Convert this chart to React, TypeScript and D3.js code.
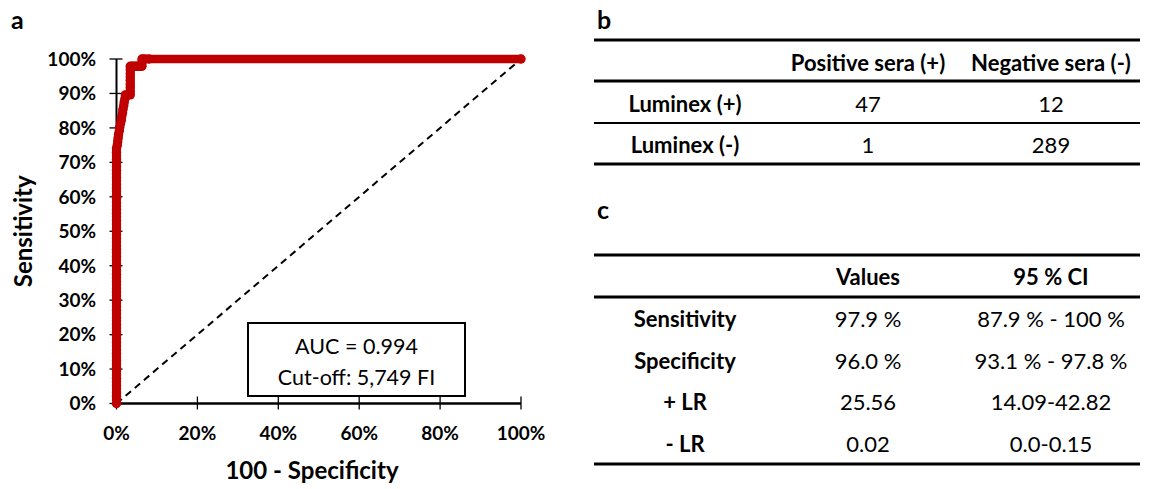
import React from 'react';
import * as d3 from 'd3';

// ROC curve points: [100 - specificity %, sensitivity %]
const rocPoints: [number, number][] = [
  [0, 0], [0, 1.0], [0, 2.1], [0, 3.1], [0, 4.2], [0, 5.2], [0, 6.3], [0, 7.3], [0, 8.3], [0, 9.4],
  [0, 10.4], [0, 11.5], [0, 12.5], [0, 13.5], [0, 14.6], [0, 15.6], [0, 16.7], [0, 17.7], [0, 18.8], [0, 19.8],
  [0, 20.8], [0, 21.9], [0, 22.9], [0, 24.0], [0, 25.0], [0, 26.0], [0, 27.1], [0, 28.1], [0, 29.2], [0, 30.2],
  [0, 31.3], [0, 32.3], [0, 33.3], [0, 34.4], [0, 35.4], [0, 36.5], [0, 37.5], [0, 38.5], [0, 39.6], [0, 40.6],
  [0, 41.7], [0, 42.7], [0, 43.8], [0, 44.8], [0, 45.8], [0, 46.9], [0, 47.9], [0, 49.0], [0, 50.0], [0, 51.0],
  [0, 52.1], [0, 53.1], [0, 54.2], [0, 55.2], [0, 56.3], [0, 57.3], [0, 58.3], [0, 59.4], [0, 60.4], [0, 61.5],
  [0, 62.5], [0, 63.5], [0, 64.6], [0, 65.6], [0, 66.7], [0, 67.7], [0, 68.8], [0, 69.8], [0, 70.8], [0, 71.9],
  [0, 72.9], [0, 74.0], [0.2, 75.0], [0.3, 76.0], [0.4, 77.1], [0.5, 78.1], [0.7, 79.2], [0.8, 80.2], [1.0, 81.3],
  [1.2, 82.3], [1.3, 83.3], [1.5, 84.4], [1.6, 85.4], [1.8, 86.5], [1.9, 87.5], [2.1, 88.5], [2.2, 89.6],
  [2.6, 89.6], [3.0, 89.6], [3.4, 89.6], [3.4, 90.6], [3.4, 91.7], [3.4, 92.7], [3.4, 93.8], [3.4, 94.8],
  [3.4, 95.8], [3.4, 96.9], [3.4, 97.9], [3.8, 97.9], [4.2, 97.9], [4.6, 97.9], [5.0, 97.9], [5.4, 97.9],
  [5.8, 97.9], [6.3, 97.9], [6.3, 99.0], [6.3, 100], [7.0, 100], [8.0, 100], [100, 100],
];

const xTicks = [0, 20, 40, 60, 80, 100];
const yTicks = [0, 10, 20, 30, 40, 50, 60, 70, 80, 90, 100];
const aucLines = ['AUC = 0.994', 'Cut-off: 5,749 FI'];

// table b
const bHeader = ['', 'Positive sera (+)', 'Negative sera (-)'];
const bRows = ['Luminex (+)', 'Luminex (-)'];
const bValues = [['47', '12'], ['1', '289']];

// table c
const cHeader = ['', 'Values', '95 % CI'];
const cRows = ['Sensitivity', 'Specificity', '+ LR', '- LR'];
const cValues = [
  ['97.9 %', '87.9 % - 100 %'],
  ['96.0 %', '93.1 % - 97.8 %'],
  ['25.56', '14.09-42.82'],
  ['0.02', '0.0-0.15'],
];

const FONT = 'Lato, "Open Sans", sans-serif';
const RED = '#c00000';
const BOLD_T = 22;  // table bold text
const REG_T = 22;   // table regular text

const App: React.FC = () => {
  const x = d3.scaleLinear().domain([0, 100]).range([116.5, 521]);
  const y = d3.scaleLinear().domain([0, 100]).range([403.5, 59]);

  const line = d3.line<[number, number]>()
    .x(d => x(d[0]))
    .y(d => y(d[1]));

  // table columns
  const col = d3.scaleOrdinal<number, number>().domain([0, 1, 2]).range([685, 868, 1051]);
  const tLeft = 594;
  const tRight = 1140;

  return (
    <svg width={1151} height={489} style={{ position: 'absolute', left: 0, top: 0, background: '#fff' }}
      fontFamily={FONT}>
      {/* panel a */}
      <text x={11} y={29} fontSize={25} fontWeight="bold">a</text>

      {/* diagonal reference */}
      <path d={line([[0, 0], [100, 100]]) || ''} stroke="#000" strokeWidth={2} strokeDasharray="7,5" fill="none" />

      {/* axes */}
      <line x1={x(0)} x2={x(0)} y1={y(0)} y2={y(100)} stroke="#000" strokeWidth={2} />
      <line x1={x(0)} x2={x(100)} y1={y(0)} y2={y(0)} stroke="#000" strokeWidth={2.5} />
      {yTicks.map(t => (
        <g key={'y' + t}>
          <line x1={x(0) - 7} x2={x(0) + 6} y1={y(t)} y2={y(t)} stroke="#000" strokeWidth={1.3} />
          <text x={96} y={y(t)} dy="0.36em" textAnchor="end" fontSize={19} fontWeight="bold">{t}%</text>
        </g>
      ))}
      {xTicks.map(t => (
        <g key={'x' + t}>
          <line x1={x(t)} x2={x(t)} y1={y(0) - 7} y2={y(0) + 6} stroke="#000" strokeWidth={1.3} />
          <text x={x(t)} y={440} textAnchor="middle" fontSize={19} fontWeight="bold">{t}%</text>
        </g>
      ))}

      {/* ROC curve */}
      <path d={line(rocPoints) || ''} stroke={RED} strokeWidth={8.4} fill="none"
        strokeLinejoin="round" strokeLinecap="round" />
      {rocPoints.map((p, i) => (
        <circle key={i} cx={x(p[0])} cy={y(p[1])} r={4.7} fill={RED} />
      ))}

      {/* axis titles */}
      <text transform={`translate(32,${(y(0) + y(100)) / 2}) rotate(-90)`} textAnchor="middle"
        fontSize={24} fontWeight="bold">Sensitivity</text>
      <text x={312} y={479} textAnchor="middle" fontSize={24} fontWeight="bold">100 - Specificity</text>

      {/* AUC box */}
      <rect x={248} y={323} width={217} height={73} fill="#fff" stroke="#000" strokeWidth={2} />
      {aucLines.map((s, i) => (
        <text key={s} x={356.5} y={354 + i * 31} textAnchor="middle" fontSize={21.5}>{s}</text>
      ))}

      {/* panel b */}
      <text x={597} y={29} fontSize={25} fontWeight="bold">b</text>
      <line x1={tLeft} x2={tRight} y1={40} y2={40} stroke="#000" strokeWidth={3} />
      {bHeader.map((h, i) => (
        <text key={'bh' + i} x={col(i)} y={71} textAnchor="middle" fontSize={BOLD_T} fontWeight="bold">{h}</text>
      ))}
      <line x1={tLeft} x2={tRight} y1={81} y2={81} stroke="#000" strokeWidth={3} />
      {bRows.map((r, i) => (
        <g key={'br' + i}>
          <text x={col(0)} y={112 + i * 41} textAnchor="middle" fontSize={BOLD_T} fontWeight="bold">{r}</text>
          {bValues[i].map((v, j) => (
            <text key={j} x={col(j + 1)} y={112 + i * 41} textAnchor="middle" fontSize={REG_T}>{v}</text>
          ))}
        </g>
      ))}
      <line x1={tLeft} x2={tRight} y1={123} y2={123} stroke="#000" strokeWidth={2} />
      <line x1={tLeft} x2={tRight} y1={164} y2={164} stroke="#000" strokeWidth={3} />

      {/* panel c */}
      <text x={597} y={219} fontSize={25} fontWeight="bold">c</text>
      <line x1={tLeft} x2={tRight} y1={255} y2={255} stroke="#000" strokeWidth={3} />
      {cHeader.map((h, i) => (
        <text key={'ch' + i} x={col(i)} y={285} textAnchor="middle" fontSize={BOLD_T} fontWeight="bold">{h}</text>
      ))}
      <line x1={tLeft} x2={tRight} y1={297} y2={297} stroke="#000" strokeWidth={3} />
      {cRows.map((r, i) => (
        <g key={'cr' + i}>
          <text x={col(0)} y={327 + i * 41.7} textAnchor="middle" fontSize={BOLD_T} fontWeight="bold">{r}</text>
          {cValues[i].map((v, j) => (
            <text key={j} x={col(j + 1)} y={327 + i * 41.7} textAnchor="middle" fontSize={REG_T}>{v}</text>
          ))}
        </g>
      ))}
      <line x1={tLeft} x2={tRight} y1={464} y2={464} stroke="#000" strokeWidth={3} />
    </svg>
  );
};

export default App;
